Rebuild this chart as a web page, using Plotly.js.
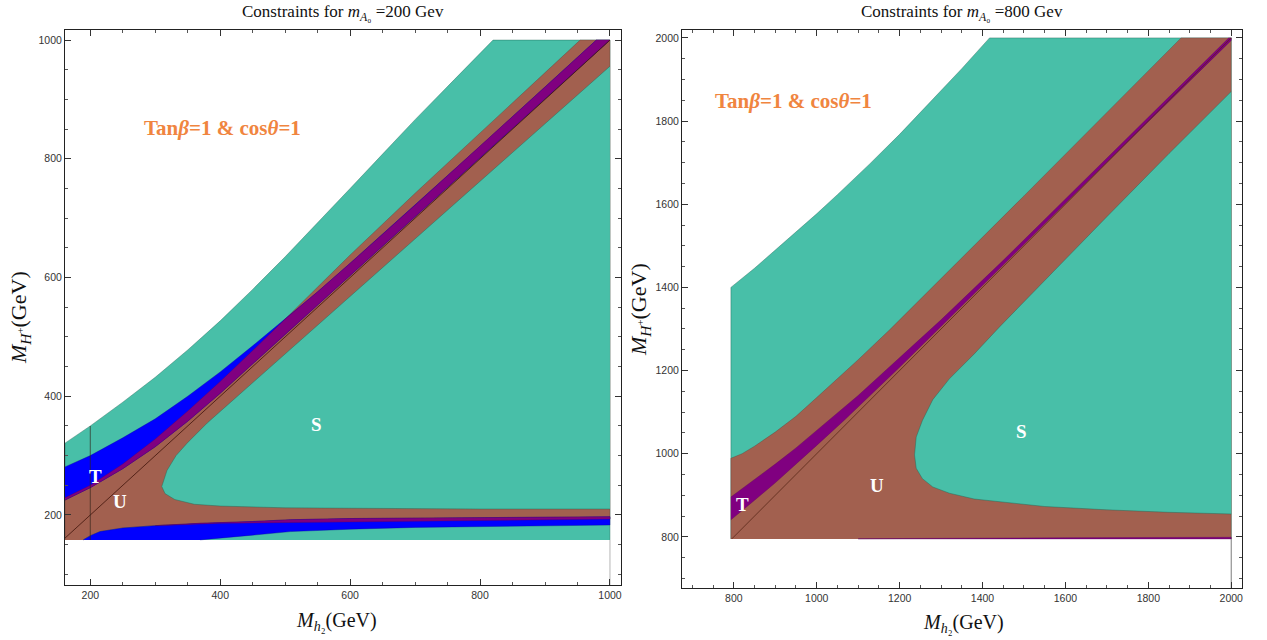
<!DOCTYPE html>
<html>
<head>
<meta charset="utf-8">
<script src="https://cdn.plot.ly/plotly-3.0.1.min.js"></script>
<style>html,body{margin:0;padding:0;background:#fff;}#chart{width:1267px;height:640px;}</style>
</head>
<body>
<div id="chart"></div>
<script>
// ---------------- Left panel: m_A0 = 200 GeV ----------------
const sOuterTopX_L = [161, 200, 250, 300, 350, 400, 450, 500, 550, 600, 650, 700, 760, 820];
const sOuterTopY_L = [321, 350, 390, 432, 478, 527, 580, 635, 692, 750, 808, 866, 933, 1000];

const uTopX_L = [161, 200, 250, 300, 350, 400, 450, 500, 550, 600, 700, 800, 900, 954];
const uTopY_L = [229, 250, 286, 328, 375, 425, 477, 530, 584, 638, 742, 844, 945, 1000];
const uLowX_L = [1000, 800, 600, 500, 400, 300, 250, 215, 200, 189];
const uLowY_L = [193, 191, 189, 188, 186, 182, 178, 172, 165, 158];

const tTopX_L = [161, 200, 250, 300, 350, 400, 450, 500, 550, 600, 700, 800, 900, 979];
const tTopY_L = [281, 300, 330, 362, 400, 441, 485, 530, 576, 624, 722, 821, 921, 1000];
const tLowX_L = [1000, 900, 800, 650, 500, 400, 350, 300, 250, 200, 161];
const tLowY_L = [1000, 901, 802, 653, 504, 405, 358, 315, 278, 246, 225];

const pTopX_L = [161, 200, 250, 300, 350, 400, 450, 500, 550, 600, 700, 800, 900, 979];
const pTopY_L = [229, 250, 286, 328, 375, 425, 477, 530, 576, 624, 722, 821, 921, 1000];

const tBandTopX_L = [189, 200, 215, 250, 300, 369, 450, 508, 600, 800, 1000];
const tBandTopY_L = [158, 165, 172, 178, 182, 186, 189, 192, 194, 196, 197];
const tBandBotX_L = [1000, 900, 800, 700, 600, 508, 450, 369];
const tBandBotY_L = [183, 182, 181, 179, 176, 172, 166, 158];

const pLowTopX_L = [300, 369, 450, 508, 600, 800, 1000];
const pLowTopY_L = [182, 186, 189, 192, 194, 196, 197];
const pLowBotX_L = [1000, 800, 600, 500, 400, 300];
const pLowBotY_L = [193, 191, 189, 188, 186, 182];

const sInX_L = [1000, 900, 800, 700, 600, 500, 420, 380, 349, 332, 318, 310, 315, 330, 360, 400, 500, 600, 800, 1000];
const sInY_L = [956, 859, 762, 665, 568, 470, 394, 355, 321, 300, 275, 248, 236, 226, 218, 215, 212, 211, 210, 210];

const diagX_L = [161, 1000], diagY_L = [161, 1000];
const vlineX_L = [200, 200], vlineY_L = [158, 350];

// ---------------- Right panel: m_A0 = 800 GeV ----------------
const sOuterTopX_R = [793, 850, 900, 950, 1000, 1050, 1128, 1200, 1300, 1350, 1417];
const sOuterTopY_R = [1400, 1446, 1489, 1532, 1577, 1623, 1697, 1768, 1872, 1926, 2000];

const uTopX_R = [793, 820, 850, 900, 950, 1000, 1050, 1100, 1176, 1500, 1879];
const uTopY_R = [989, 1000, 1018, 1052, 1090, 1135, 1180, 1226, 1298, 1620, 2000];

const tTopX_R = [793, 850, 900, 950, 1000, 1050, 1100, 1200, 1300, 1450, 1700, 1994];
const tTopY_R = [896, 938, 975, 1014, 1055, 1098, 1140, 1230, 1322, 1465, 1710, 2000];
const tLowX_R = [2000, 1700, 1450, 1300, 1200, 1067, 1000, 900, 850, 793];
const tLowY_R = [1994, 1701, 1453, 1306, 1208, 1081, 1020, 930, 888, 841];

const pBotTopX_R = [1100, 1300, 1600, 2000];
const pBotTopY_R = [795.5, 797, 798, 799];

const sInX_R = [2000, 1850, 1700, 1550, 1441, 1380, 1320, 1280, 1255, 1240, 1236, 1240, 1255, 1280, 1320, 1380, 1441, 1550, 1700, 1850, 2000];
const sInY_R = [1871, 1722, 1570, 1418, 1305, 1240, 1180, 1130, 1080, 1040, 997, 965, 940, 920, 905, 891, 884, 873, 865, 859, 855];

const diagX_R = [795, 2000], diagY_R = [795, 2000];

// ---------------- colours ----------------
const TEAL = '#48BFA8', BROWN = '#A2604F', PURPLE = '#800080', BLUE = '#0000FF';
const TEAL_E = 'rgba(30,100,85,0.7)', BROWN_E = 'rgba(90,60,50,0.6)', PURPLE_E = 'rgba(90,0,90,0.6)', BLUE_E = 'rgba(0,0,150,0.6)';

const AX_L = ['x', 'y'], AX_R = ['x2', 'y2'];
function poly(xs, ys, fill, edge, ax) {
  return {type: 'scatter', mode: 'lines', x: xs, y: ys, fill: 'toself', fillcolor: fill,
    line: {color: edge, width: 0.6}, hoverinfo: 'skip', showlegend: false, xaxis: ax[0], yaxis: ax[1]};
}
function line(xs, ys, color, w, ax) {
  return {type: 'scatter', mode: 'lines', x: xs, y: ys, line: {color: color, width: w},
    hoverinfo: 'skip', showlegend: false, xaxis: ax[0], yaxis: ax[1]};
}

const traces = [
  // left
  poly([161].concat(sOuterTopX_L, [1000, 1000]), [158].concat(sOuterTopY_L, [1000, 158]), TEAL, TEAL_E, AX_L),
  poly([161, 161].concat(uTopX_L.slice(1), [1000], uLowX_L), [158, 229].concat(uTopY_L.slice(1), [1000], uLowY_L), BROWN, BROWN_E, AX_L),
  poly(tTopX_L.concat(tLowX_L), tTopY_L.concat(tLowY_L), BLUE, BLUE_E, AX_L),
  poly(tBandTopX_L.concat(tBandBotX_L), tBandTopY_L.concat(tBandBotY_L), BLUE, BLUE_E, AX_L),
  poly(pTopX_L.concat(tLowX_L), pTopY_L.concat(tLowY_L), PURPLE, PURPLE_E, AX_L),
  poly(pLowTopX_L.concat(pLowBotX_L), pLowTopY_L.concat(pLowBotY_L), PURPLE, PURPLE_E, AX_L),
  poly(sInX_L, sInY_L, TEAL, TEAL_E, AX_L),
  line(diagX_L, diagY_L, 'rgba(70,25,15,0.85)', 1, AX_L),
  line(vlineX_L, vlineY_L, 'rgba(50,35,25,0.55)', 1.2, AX_L),
  line([1000, 1000], [82, 158], 'rgba(150,150,150,0.7)', 1, AX_L),
  // right
  poly([793].concat(sOuterTopX_R, [2000, 2000]), [795].concat(sOuterTopY_R, [2000, 795]), TEAL, TEAL_E, AX_R),
  poly([793].concat(uTopX_R, [2000, 2000]), [795].concat(uTopY_R, [2000, 795]), BROWN, BROWN_E, AX_R),
  poly(sInX_R, sInY_R, TEAL, TEAL_E, AX_R),
  poly(tTopX_R.concat([2000], tLowX_R), tTopY_R.concat([2000], tLowY_R), PURPLE, PURPLE_E, AX_R),
  poly(pBotTopX_R.concat([2000, 1100]), pBotTopY_R.concat([795, 795]), PURPLE, PURPLE_E, AX_R),
  line(diagX_R, diagY_R, 'rgba(90,40,25,0.8)', 1, AX_R),
  line([2000, 2000], [677, 795], 'rgba(90,90,90,0.8)', 1, AX_R)
];

const tickFont = {family: 'Liberation Sans, Arial, sans-serif', size: 10.5, color: '#333'};
function axis(domain, range, anchor) {
  return {domain: domain, range: range, anchor: anchor, showline: true, linecolor: '#222', linewidth: 1,
    mirror: 'ticks', ticks: 'inside', ticklen: 6, tickcolor: '#333', tickwidth: 1,
    tick0: 0, dtick: 200, showgrid: false, zeroline: false, tickfont: tickFont,
    minor: {dtick: 50, tick0: 0, ticks: 'inside', ticklen: 3, tickcolor: '#555', showgrid: false}};
}
const SERIF = 'Liberation Serif, Times New Roman, serif';
const ORANGE = '#F0853F';
function pa(text, px, py, size, extra) {
  return Object.assign({text: text, xref: 'paper', yref: 'paper', x: px/1267, y: 1 - py/640,
    xanchor: 'center', yanchor: 'middle', showarrow: false, font: {family: SERIF, size: size, color: '#111'}}, extra || {});
}
function da(text, xr, yr, x, y, size, color) {
  return {text: text, xref: xr, yref: yr, x: x, y: y, xanchor: 'center', yanchor: 'middle',
    showarrow: false, font: {family: SERIF, size: size, color: color}};
}
const annots = [
  pa('Constraints for <i>m</i><sub><i>A</i>₀</sub> =200 Gev', 343, 13, 17),
  pa('Constraints for <i>m</i><sub><i>A</i>₀</sub> =800 Gev', 962, 13, 17),
  pa('<i>M</i><sub><i>h</i>₂</sub>(GeV)', 336, 621, 20),
  pa('<i>M</i><sub><i>h</i>₂</sub>(GeV)', 963, 623, 20),
  pa('<i>M</i><sub><i>H</i><sup>+</sup></sub>(GeV)', 20, 318, 22, {textangle: -90}),
  pa('<i>M</i><sub><i>H</i><sup>+</sup></sub>(GeV)', 640, 310, 22, {textangle: -90}),
  da('<b>Tan<i>β</i>=1 &amp; cos<i>θ</i>=1</b>', 'x', 'y', 403, 852, 21, ORANGE),
  da('<b>Tan<i>β</i>=1 &amp; cos<i>θ</i>=1</b>', 'x2', 'y2', 945, 1849, 21, ORANGE),
  da('<b>T</b>', 'x', 'y', 208, 264, 19, '#fff'),
  da('<b>U</b>', 'x', 'y', 246, 222, 19, '#fff'),
  da('<b>S</b>', 'x', 'y', 548, 352, 19, '#fff'),
  da('<b>T</b>', 'x2', 'y2', 822, 877, 19, '#fff'),
  da('<b>U</b>', 'x2', 'y2', 1145, 923, 19, '#fff'),
  da('<b>S</b>', 'x2', 'y2', 1494, 1053, 19, '#fff')
];

const layout = {
  width: 1267, height: 640, margin: {l: 0, r: 0, t: 0, b: 0},
  paper_bgcolor: '#fff', plot_bgcolor: '#fff', showlegend: false,
  xaxis: axis([65/1267, 621/1267], [161, 1017], 'y'),
  yaxis: axis([(640-585)/640, (640-30)/640], [82, 1017], 'x'),
  xaxis2: axis([682/1267, 1242/1267], [675, 2026], 'y2'),
  yaxis2: axis([(640-588)/640, (640-30)/640], [677, 2019], 'x2'),
  annotations: annots
};
Plotly.newPlot('chart', traces, layout, {displayModeBar: false, staticPlot: true});
</script>
</body>
</html>
